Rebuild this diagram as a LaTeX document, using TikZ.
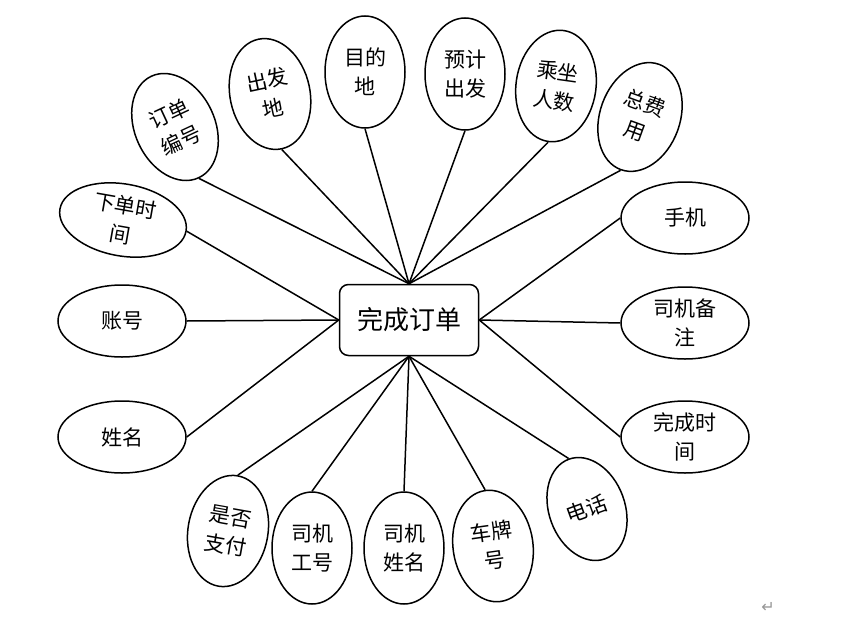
\documentclass[tikz,border=0pt]{standalone}
\usepackage{fontspec}
\usepackage{xcolor}
\usetikzlibrary{shapes.geometric}
\newfontfamily\cjk{Noto Sans CJK SC}
\newfontfamily\symfont{DejaVu Sans}
\definecolor{markgray}{RGB}{150,150,150}

\begin{document}
\begin{tikzpicture}[x=1pt,y=-1pt,
    attr/.style={ellipse, draw, line width=1.5pt, inner sep=0pt, minimum width=80pt, minimum height=112pt, align=center, font=\cjk\fontsize{21}{29}\selectfont},
    wideattr/.style={attr, minimum width=128pt, minimum height=72pt},
    link/.style={line width=1.5pt}]
    \useasboundingbox (0,0) rectangle (843,629);

    % Main entity node
    \node[rectangle, rounded corners=9pt, draw, line width=1.5pt, minimum width=139pt, minimum height=71pt, font=\cjk\fontsize{26}{30}\selectfont] (order) at (409,320) {完成订单};

    % Top attributes
    \node[attr, rotate=25] (orderno) at (175,127) {订单\\编号};
    \node[attr, rotate=12] (depart) at (270,94) {出发\\地};
    \node[attr] (dest) at (365,72) {目的\\地};
    \node[attr] (plantime) at (465,74) {预计\\出发};
    \node[attr, rotate=-8] (passengers) at (556,86) {乘坐\\人数};
    \node[attr, rotate=-20] (fee) at (640,117) {总费\\用};

    % Left attributes
    \node[wideattr, rotate=-10] (ordertime) at (123,220) {下单时\\间};
    \node[wideattr] (account) at (122,321) {账号};
    \node[wideattr] (name) at (122,437) {姓名};

    % Right attributes
    \node[wideattr] (phone) at (685,218) {手机};
    \node[wideattr] (remark) at (685,323) {司机备\\注};
    \node[wideattr] (donetime) at (685,437) {完成时\\间};

    % Bottom attributes
    \node[attr, rotate=-10] (paid) at (228,531) {是否\\支付};
    \node[attr] (dno) at (312,548) {司机\\工号};
    \node[attr] (dname) at (404,548) {司机\\姓名};
    \node[attr, rotate=8] (plate) at (493,546) {车牌\\号};
    \node[attr, rotate=20, minimum width=76pt, minimum height=106pt] (tel) at (587,509) {电话};

    % Connectors
    \foreach \a in {orderno,depart,dest,plantime,passengers,fee}
        \draw[link] (\a.south) -- (order.north);
    \foreach \a in {ordertime,account,name}
        \draw[link] (\a.east) -- (order.west);
    \foreach \a in {phone,remark,donetime}
        \draw[link] (\a.west) -- (order.east);
    \foreach \a in {paid,dno,dname,plate,tel}
        \draw[link] (\a.north) -- (order.south);

    % Paragraph mark
    \node[text=markgray, font=\symfont\fontsize{16}{16}\selectfont] (mark) at (768,607) {↵};
\end{tikzpicture}
\end{document}
